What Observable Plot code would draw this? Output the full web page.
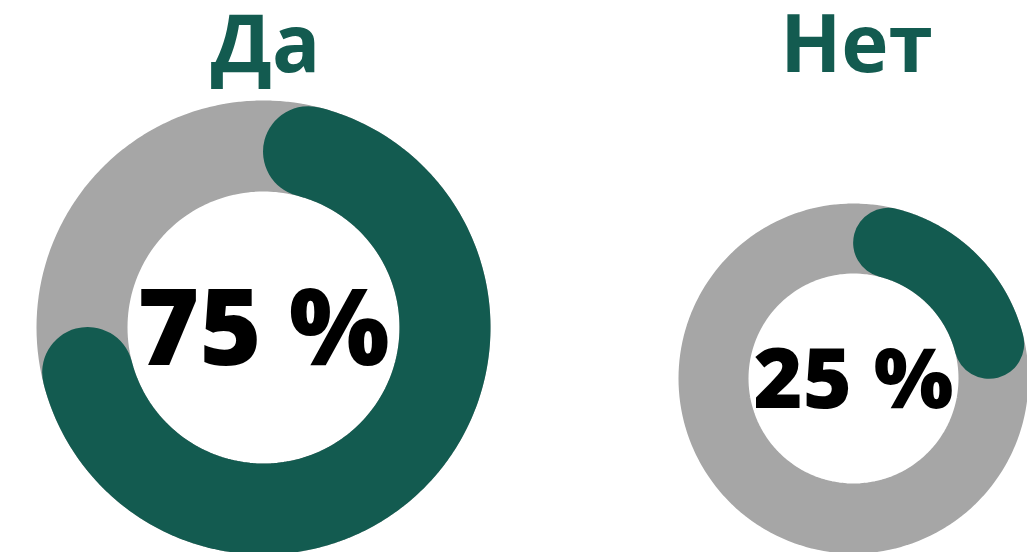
<!DOCTYPE html>
<html>
<head>
<meta charset="utf-8">
<script src="https://cdn.jsdelivr.net/npm/d3@7"></script>
<script src="https://cdn.jsdelivr.net/npm/@observablehq/plot@0.6"></script>
<style>
  html, body { margin: 0; padding: 0; background: #fff; }
  #chart svg { display: block; }
</style>
</head>
<body>
<div id="chart"></div>
<script>
// Data
const labels = ["Да", "Нет"];
const values = [75, 25]; // percent
const valueLabels = ["75 %", "25 %"];

// Layout (pixels)
const W = 1027, H = 552;
const layout = [
  { cx: 263, cy: 327, outer: 227, inner: 136, titleX: 265, titleY: 46, pctY: 331, pctSize: 106 },
  { cx: 853, cy: 378, outer: 175, inner: 105, titleX: 856, titleY: 46, pctY: 381, pctSize: 84 }
];
const green = "#135b50";
const grey = "#a6a6a6";

function arcPoints(cx, r, cy, a0, a1, key) {
  const n = 180;
  const pts = [];
  for (let i = 0; i <= n; i++) {
    const a = a0 + (a1 - a0) * i / n;
    pts.push({ x: cx + r * Math.sin(a), y: cy - r * Math.cos(a), key });
  }
  return pts;
}

const ringMarks = [];
const arcMarks = [];
labels.forEach((lab, i) => {
  const L = layout[i];
  const rMid = (L.outer + L.inner) / 2;
  const thick = L.outer - L.inner;
  const capAng = (thick / 2) / rMid;
  ringMarks.push(Plot.line(arcPoints(L.cx, rMid, L.cy, 0, 2 * Math.PI, lab), {
    x: "x", y: "y", stroke: grey, strokeWidth: thick, strokeLinejoin: "round", curve: "linear"
  }));
  arcMarks.push(Plot.line(arcPoints(L.cx, rMid, L.cy, capAng, values[i] / 100 * 2 * Math.PI - capAng, lab), {
    x: "x", y: "y", stroke: green, strokeWidth: thick, strokeLinecap: "round", strokeLinejoin: "round"
  }));
});

const titles = labels.map((t, i) => ({ t, x: layout[i].titleX, y: layout[i].titleY }));
const pcts = valueLabels.map((t, i) => ({ t, x: layout[i].cx, y: layout[i].pctY, s: layout[i].pctSize }));

const chart = Plot.plot({
  width: W,
  height: H,
  margin: 0,
  x: { domain: [0, W], axis: null },
  y: { domain: [0, H], reverse: true, axis: null },
  marks: [
    ...ringMarks,
    ...arcMarks,
    Plot.text(titles, {
      x: "x", y: "y", text: "t", fill: green, fontSize: 80, fontWeight: 700,
      fontFamily: "Open Sans", textAnchor: "middle", lineAnchor: "middle"
    }),
    Plot.text([pcts[0]], {
      x: "x", y: "y", text: "t", fill: "#000", fontSize: pcts[0].s, fontWeight: 800,
      fontFamily: "Open Sans", textAnchor: "middle", lineAnchor: "middle"
    }),
    Plot.text([pcts[1]], {
      x: "x", y: "y", text: "t", fill: "#000", fontSize: pcts[1].s, fontWeight: 800,
      fontFamily: "Open Sans", textAnchor: "middle", lineAnchor: "middle"
    })
  ]
});
document.getElementById("chart").appendChild(chart);
</script>
</body>
</html>
